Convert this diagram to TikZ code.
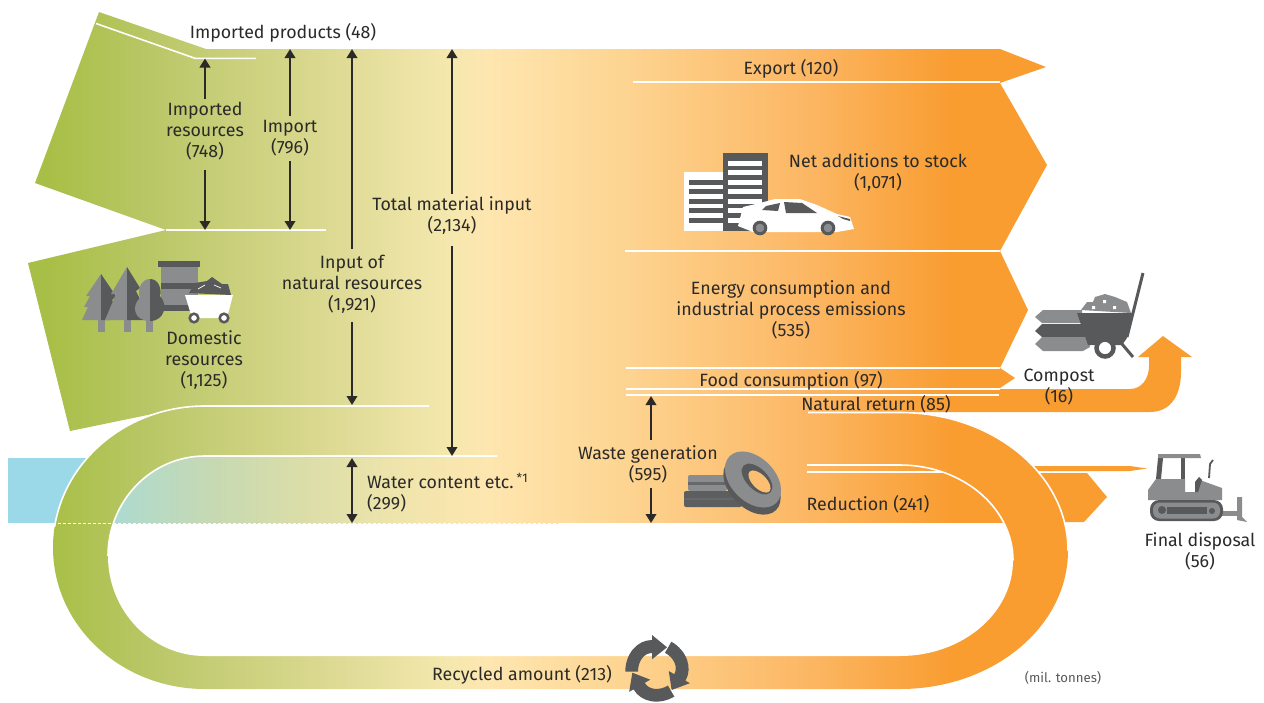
\documentclass[tikz,border=0pt]{standalone}
\usepackage{fontspec}
\setmainfont{Fira Sans}
\usetikzlibrary{arrows.meta}
\definecolor{txt}{HTML}{2B2A29}
\definecolor{icd}{HTML}{58595B}
\definecolor{icl}{HTML}{8A8C8E}
\definecolor{org}{HTML}{F99D31}
\definecolor{wat}{HTML}{9BD9E8}
\definecolor{fa}{HTML}{A8BF47}
\definecolor{fb}{HTML}{B9C766}
\definecolor{fc}{HTML}{CDD17F}
\definecolor{fd}{HTML}{E0DC98}
\definecolor{fe}{HTML}{F5E8AE}
\definecolor{ff}{HTML}{FEE6AF}
\definecolor{fg}{HTML}{FDD592}
\definecolor{fh}{HTML}{FCB866}
\definecolor{wa}{HTML}{A8DAD8}
\definecolor{wb}{HTML}{B1DACB}
\definecolor{wc}{HTML}{C6D9B3}
\definecolor{wd}{HTML}{DADDA8}
\definecolor{we}{HTML}{EFE5AC}
\pgfdeclarehorizontalshading{flowsh}{100bp}{
 color(0bp)=(fa); color(26.98bp)=(fa); color(30.93bp)=(fb); color(34.89bp)=(fc);
 color(38.85bp)=(fd); color(42.80bp)=(fe); color(44.38bp)=(ff); color(49.53bp)=(fg);
 color(56.65bp)=(fh); color(62.58bp)=(org); color(100bp)=(org)}
\pgfdeclarehorizontalshading{watersh}{100bp}{
 color(0bp)=(wat); color(25.4bp)=(wat); color(28.16bp)=(wa); color(30.14bp)=(wb);
 color(33.31bp)=(wc); color(36.87bp)=(wd); color(40.82bp)=(we); color(44.38bp)=(ff);
 color(49.53bp)=(fg); color(56.65bp)=(fh); color(62.58bp)=(org); color(100bp)=(org)}
\newcommand{\mainpath}{(99,12) -- (206,49) -- (1000,49) -- (1046,67) -- (1000,83) -- (1047,165) -- (1000,251)
 -- (1028,310) -- (1000,368) -- (1015,378) -- (1000,388) -- (1000,389) -- (1130,389)
 .. controls (1142,389) and (1149,378) .. (1149,366) -- (1149,357) -- (1138,357) -- (1163,336) -- (1192,357) -- (1181,357) -- (1181,372)
 .. controls (1181,396) and (1170,412) .. (1150,412) -- (900,412)
 .. controls (992.8,412) and (1068,474) .. (1068,550.5) .. controls (1068,627) and (992.8,689) .. (900,689)
 -- (205,689) .. controls (121,689) and (53,625.7) .. (53,547.5) .. controls (53,469.3) and (121,406) .. (205,406)
 -- (167,411) -- (70,431) -- (28,263) -- (166,230) -- (35,183) -- cycle}
\newcommand{\innerloop}{(205,456) .. controls (151.4,456) and (108,500.8) .. (108,556) .. controls (108,611.2) and (151.4,656) .. (205,656)
 -- (900,656) .. controls (962.4,656) and (1013,613.2) .. (1013,560.5) .. controls (1013,507.8) and (962.4,465) .. (900,465) -- cycle}
\tikzset{
 wline/.style={white,line width=1.6pt},
 lab/.style={text=txt,font=\fontsize{17.8}{21}\selectfont,align=center,inner sep=2pt},
 flowarrow/.style={draw=txt,line width=2pt,-{Stealth[length=9pt,width=10.5pt,inset=0pt]}},
 flowboth/.style={draw=txt,line width=2pt,{Stealth[length=9pt,width=10.5pt,inset=0pt]}-{Stealth[length=9pt,width=10.5pt,inset=0pt]}},
 dk/.style={fill=icd},
 lt/.style={fill=icl}
}
\begin{document}
\begin{tikzpicture}[x=1pt,y=-1pt]
\useasboundingbox (0,0) rectangle (1264,702);
\fill[white] (0,0) rectangle (1264,702);
% water, outside the loop
\fill[wat] (8,457.5) rectangle (110,523);
% spike and block to final disposal
\fill[org] (1025,466) -- (1130,466) -- (1147,468.5) -- (1130,471) -- (1025,471) -- cycle;
\fill[org] (1030,473) -- (1087,473) -- (1107,497) -- (1084,522) -- (1030,522) -- cycle;
% main flow
\begin{scope}
 \clip \mainpath;
 \shade[shading=flowsh] (0,0) rectangle (1264,702);
\end{scope}
% hole
\begin{scope}
 \clip (0,523) rectangle (1264,702);
 \fill[white] \innerloop;
\end{scope}
% water, inside the loop
\begin{scope}
 \clip \innerloop;
 \clip (0,456) rectangle (560,523);
 \shade[shading=watersh] (0,0) rectangle (1264,702);
\end{scope}
\draw[white,line width=1.5pt,dash pattern=on 3pt off 2pt] (8,523.5) -- (560,523.5);
% white lines
\draw[wline] (96,23.5) -- (195,58.3) -- (256,58.3);
\draw[wline] (166,230) -- (326,230);
\begin{scope}
 \clip (0,0) rectangle (1264,526);
 \draw[wline] (429,406) -- (205,406) .. controls (121,406) and (53,469.3) .. (53,547.5);
\end{scope}
\draw[wline] (497,456) -- (205,456) .. controls (151.4,456) and (108,500.8) .. (108,556);
\draw[wline] (633,82) -- (1000,82);
\draw[wline] (625,251) -- (1000,251);
\draw[wline] (626,368) -- (1000,368);
\draw[wline] (626,389) -- (1000,389);
\draw[wline] (626,395) -- (999,395);
\draw[wline] (808,412.5) -- (900,412.5) .. controls (992.8,412.5) and (1068,474) .. (1068,550.5);
\draw[wline] (807,465) -- (900,465) .. controls (962.4,465) and (1013,507.8) .. (1013,560.5);
\draw[wline] (807,472) -- (943,472);
% labels
\node[lab] (impprod) at (283,32.5) {Imported products (48)};
\node[lab] (impres) at (205,131.5) {Imported\\resources\\(748)};
\node[lab] (imp) at (290,138.5) {Import\\(796)};
\node[lab] (input) at (352,284.5) {Input of\\natural resources\\(1,921)};
\node[lab] (total) at (452,216) {Total material input\\(2,134)};
\node[lab] (dom) at (204,360.5) {Domestic\\resources\\(1,125)};
\node[lab,align=left,anchor=west] (water) at (365,493) {Water content etc.\,\textsuperscript{*1}\\(299)};
\node[lab] (export) at (791,68.5) {Export (120)};
\node[lab] (net) at (878,173) {Net additions to stock\\(1,071)};
\node[lab] (energy) at (791,310) {Energy consumption and\\industrial process emissions\\(535)};
\node[lab] (food) at (791,380.5) {Food consumption (97)};
\node[lab] (natural) at (876,404.5) {Natural return (85)};
\node[lab] (compost) at (1059,387) {Compost\\(16)};
\node[lab] (waste) at (648,464) {Waste generation\\(595)};
\node[lab] (reduct) at (868,504.5) {Reduction (241)};
\node[lab] (final) at (1200,551) {Final disposal\\(56)};
\node[lab] (recyc) at (522,674.5) {Recycled amount (213)};
\node[text=icd,font=\fontsize{13.2}{15}\selectfont,inner sep=1pt] (unit) at (1063,678) {(mil. tonnes)};
% connector ends
\coordinate (aimptop) at (205,58.5);
\coordinate (aimpbot) at (205,230);
\coordinate (aitop) at (290,49);
\coordinate (aibot) at (290,230);
\coordinate (antop) at (352,49);
\coordinate (anbot) at (352,405);
\coordinate (attop) at (452,49);
\coordinate (atbot) at (452,456);
\coordinate (awtop) at (352,458);
\coordinate (awbot) at (352,523);
\coordinate (agtop) at (651,396);
\coordinate (agbot) at (651,523);
\draw[flowarrow] ([yshift=1pt]impres.north) -- (aimptop);
\draw[flowarrow] ([yshift=-7pt]impres.south) -- (aimpbot);
\draw[flowarrow] ([yshift=2.5pt]imp.north) -- (aitop);
\draw[flowarrow] ([yshift=-2.5pt]imp.south) -- (aibot);
\draw[flowarrow] ([yshift=4pt]input.north) -- (antop);
\draw[flowarrow] ([yshift=-6pt]input.south) -- (anbot);
\draw[flowarrow] ([yshift=1pt]total.north) -- (attop);
\draw[flowarrow] ([yshift=-9pt]total.south) -- (atbot);
\draw[flowboth] (awtop) -- (awbot);
\draw[flowarrow] ([yshift=3pt]waste.north -| agtop) -- (agtop);
\draw[flowarrow] ([yshift=-3pt]waste.south -| agbot) -- (agbot);
% icon: trees, plant, cart
\fill[lt] (98,320) rectangle (105,332);
\fill[lt] (124,320) rectangle (131,332);
\fill[lt] (146,320) rectangle (153,332);
\fill[lt] (101,274) -- (86,296) -- (90,296) -- (84,307) -- (88,307) -- (82,320) -- (101,320) -- cycle;
\fill[dk] (101,274) -- (116,296) -- (112,300) -- (118,310) -- (110,320) -- (101,320) -- cycle;
\fill[lt] (161,267) rectangle (198,305);
\fill[dk] (161,283) rectangle (198,289);
\fill[dk] (161,305) rectangle (198,311);
\fill[dk] (158,261) rectangle (200,267);
\fill[lt] (127,267) -- (111,294) -- (116,294) -- (105,320) -- (127,320) -- cycle;
\fill[dk] (127,267) -- (140,288) -- (136,291) -- (150,320) -- (127,320) -- cycle;
\fill[lt] (150,279) .. controls (141,279) and (137,290) .. (140,298) .. controls (131,306) and (134,321) .. (150,321) -- cycle;
\fill[dk] (150,279) .. controls (159,279) and (162,290) .. (160,296) .. controls (168,304) and (165,321) .. (150,321) -- cycle;
\fill[dk] (189,293) -- (195,283) -- (207,281) -- (212,277) -- (222,284) -- (228,284) -- (231,295) -- cycle;
\draw[white,line width=.7pt] (198,289) -- (205,285) (214,285) -- (221,288);
\fill[white] (185,295) -- (233,295) -- (227,318) -- (192,318) -- cycle;
\filldraw[fill=white,draw=icd,line width=2.5pt] (194,318) circle[radius=4.3pt] (224,318) circle[radius=4.3pt];
% icon: building and car
\fill[white] (684,172) rectangle (723,231);
\fill[icd] (723,153) rectangle (768,231);
\foreach \y in {161,170,180,189,199,208,218} \fill[white] (728,\y) rectangle (762,\y+5);
\foreach \y in {180,189,199,208,218} \fill[icd] (689,\y) rectangle (723,\y+5);
\fill[white] (738,226) -- (743,207) -- (760,203) -- (775,199) -- (800,199) -- (817,205) -- (837,214) -- (850,217) -- (854,229) -- (837,232) -- (753,232) -- cycle;
\fill[icd] (762,210) -- (766,206) -- (780,203) -- (778,211) -- cycle;
\fill[icd] (784,202) -- (802,203) -- (817,213) -- (786,213) -- cycle;
\fill[icd] (838,216) -- (850,219) -- (850,221) -- (843,219) -- cycle;
\foreach \x in {760,828} \filldraw[fill=icl,draw=icd,line width=3pt] (\x,228) circle[radius=5.8pt];
% icon: wheelbarrow
\draw[icd,line width=3pt] (1143,273) -- (1127,337);
\fill[lt] (1081,310) -- (1087,302) -- (1093,302) -- (1095,297) -- (1105,294) -- (1115,297) -- (1127,302) -- (1131,313) -- cycle;
\fill[white] (1092,306) rectangle +(3,3) (1103,300) rectangle +(3,3) (1113,306) rectangle +(3,3);
\fill[lt] (1043,310) -- (1082,310) -- (1082,323) -- (1042,323) -- (1035,317) -- cycle;
\fill[icd] (1042,324) -- (1087,324) -- (1088,337) -- (1042,337) -- (1035,331) -- cycle;
\fill[lt] (1042,337) -- (1088,337) -- (1090,347) -- (1083,351) -- (1043,351) -- (1035,344) -- cycle;
\fill[icd] (1077,313) -- (1132,313) -- (1127,338) -- (1122,345) -- (1088,345) -- cycle;
\draw[icd,line width=3pt] (1122,344) -- (1133,357);
\filldraw[fill=white,draw=icd,line width=4.5pt] (1105,348) circle[radius=8.5pt];
% icon: tyres
\fill[icl,rounded corners=2pt] (688,475) rectangle (727,491);
\fill[icd!70!icl] (688,482) rectangle (727,485);
\fill[icd!90!icl,rounded corners=2pt] (684,491) rectangle (742,507);
\fill[icd!70!icl] (684,498) rectangle (742,500);
\fill[icd,shift={(752,486)},rotate=-45] (0,0) circle[x radius=34pt,y radius=22pt];
\fill[icl,shift={(753,479.5)},rotate=-45] (0,0) circle[x radius=33pt,y radius=22pt];
\fill[icd,shift={(757,479)},rotate=-45] (0,0) circle[x radius=19pt,y radius=10.5pt];
\fill[fg!25!fh,shift={(759.5,481.5)},rotate=-45] (0,0) circle[x radius=14pt,y radius=7pt];
% icon: bulldozer
\fill[icd] (1158,458) -- (1163,458) -- (1161,479) -- (1156,479) -- cycle;
\fill[icd] (1181,458) rectangle (1185,492);
\fill[lt] (1158,454) -- (1200,454) -- (1201,458) -- (1158,458) -- cycle;
\draw[icd,line width=1.8pt] (1209,478) -- (1210,464) -- (1213,460);
\fill[lt] (1156,479) -- (1185,479) -- (1185,492) -- (1195,492) -- (1197,479) -- (1222,488) -- (1222,500) -- (1148,500) -- (1148,490) -- cycle;
\fill[icd] (1195,482) -- (1199,477) -- (1202,480) -- (1198,492) -- (1195,492) -- cycle;
\fill[lt] (1222,511) rectangle (1238,516);
\fill[lt] (1237,497) -- (1242,497) -- (1242,517) -- (1247,522) -- (1237,520) -- cycle;
\fill[icd,rounded corners=9pt] (1150,500) rectangle (1223,521);
\fill[lt,rounded corners=7pt] (1153,502.5) rectangle (1220,518.5);
\fill[icd] (1162,510) circle[radius=4pt] (1212,511) circle[radius=3pt];
\fill[icd] (1167,507) rectangle (1207,514);
% icon: recycling
\foreach \a in {0,-120,-240}
 \fill[icd,shift={(657,670)},rotate=\a] (-31.7,1.7) .. controls (-31.7,-16) and (-20,-30) .. (-5,-30) -- (-5,-35) -- (10,-22.7) -- (-5,-10.7) -- (-5,-17) .. controls (-13,-17) and (-19,-9) .. (-19,1.7) -- cycle;
\end{tikzpicture}
\end{document}
